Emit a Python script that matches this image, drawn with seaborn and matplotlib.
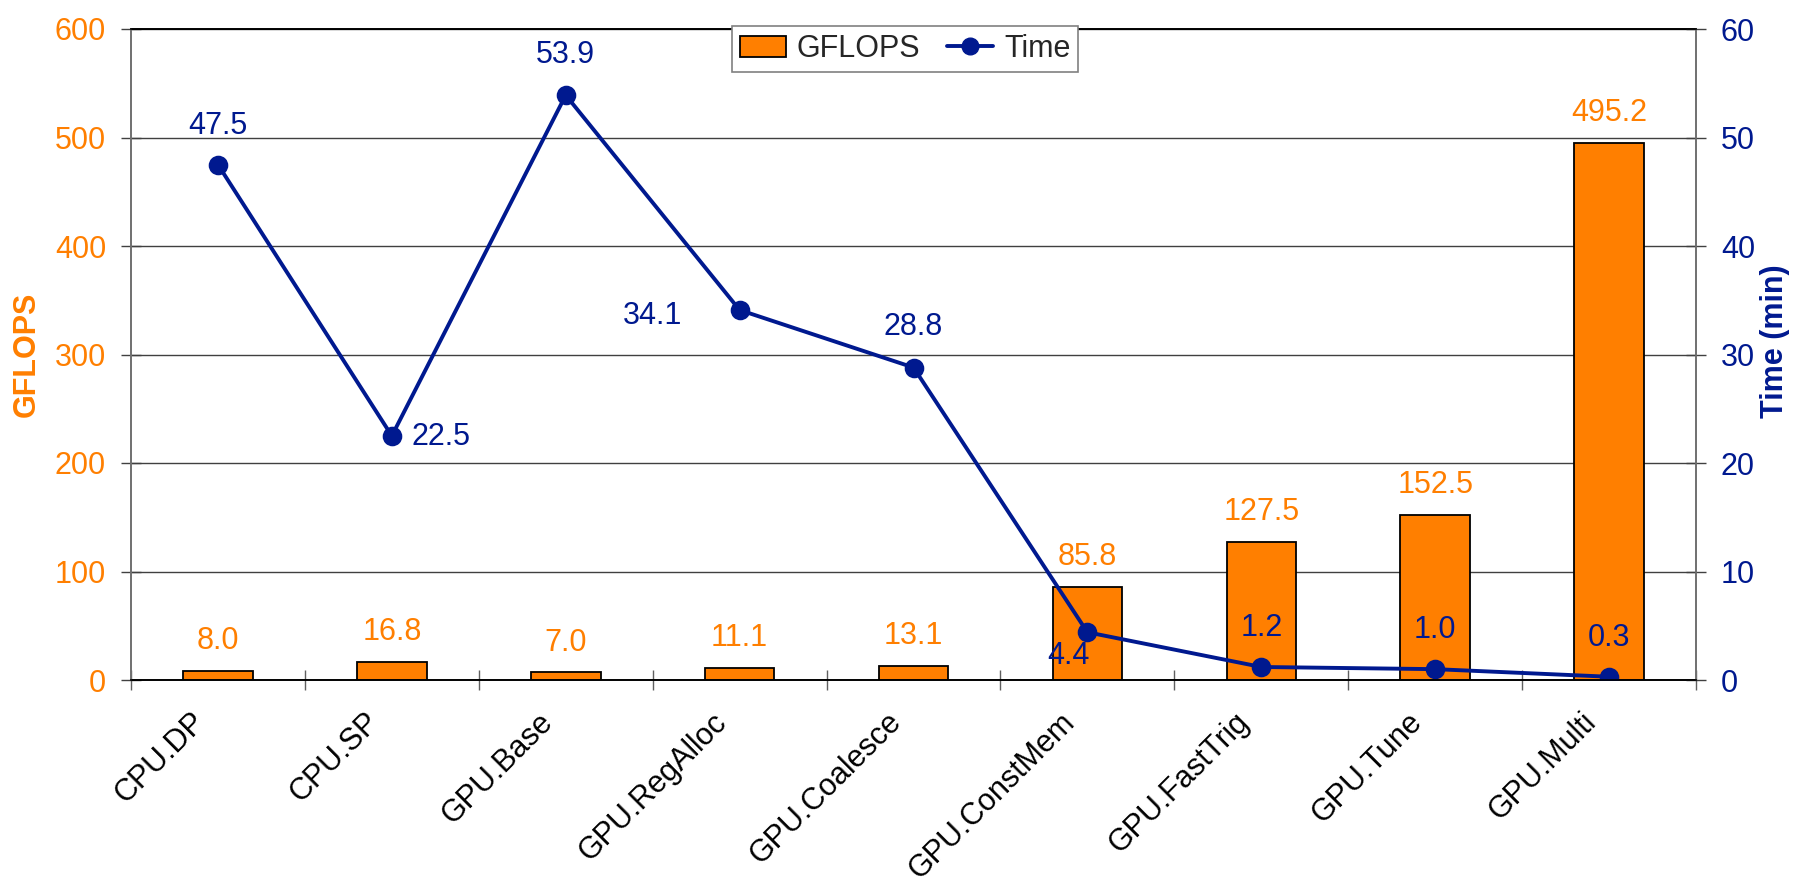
import numpy as np
import pandas as pd
import matplotlib
matplotlib.use("Agg")
import matplotlib.pyplot as plt
import seaborn as sns
from matplotlib.transforms import ScaledTranslation
from matplotlib.patches import Patch
from matplotlib.lines import Line2D

# ---- data ----
categories = ["CPU.DP", "CPU.SP", "GPU.Base", "GPU.RegAlloc", "GPU.Coalesce",
              "GPU.ConstMem", "GPU.FastTrig", "GPU.Tune", "GPU.Multi"]
gflops = [8.0, 16.8, 7.0, 11.1, 13.1, 85.8, 127.5, 152.5, 495.2]
time_min = [47.5, 22.5, 53.9, 34.1, 28.8, 4.4, 1.2, 1.0, 0.3]
gflops_ticks = [0, 100, 200, 300, 400, 500, 600]
time_ticks = [0, 10, 20, 30, 40, 50, 60]

ORANGE = "#FF7F00"
NAVY = "#00198F"
FS = 22

sns.set_theme(style="white")
plt.rcParams["font.family"] = ["Liberation Sans", "DejaVu Sans"]

df = pd.DataFrame({"cat": categories, "gflops": gflops, "time": time_min})

fig = plt.figure(figsize=(17.96, 8.86), dpi=100)
ax = fig.add_axes([131 / 1796, 1 - 680 / 886, 1565 / 1796, 651 / 886])
ax.set_axisbelow(True)

sns.barplot(data=df, x="cat", y="gflops", ax=ax, color=ORANGE, saturation=1,
            width=0.4, edgecolor="black", linewidth=1.3, zorder=3)

ax2 = ax.twinx()
sns.pointplot(data=df, x="cat", y="time", ax=ax2, color=NAVY, markers="o",
              linestyles="-", errorbar=None, markersize=12, linewidth=2.8)

n = len(categories)
ax.set_xlim(-0.5, n - 0.5)
ax.set_ylim(gflops_ticks[0], gflops_ticks[-1])
ax2.set_ylim(time_ticks[0], time_ticks[-1])

# y axes
ax.set_yticks(gflops_ticks)
ax.set_yticklabels([str(t) for t in gflops_ticks], color=ORANGE, fontsize=FS)
ax2.set_yticks(time_ticks)
ax2.set_yticklabels([str(t) for t in time_ticks], color=NAVY, fontsize=FS)
ax.tick_params(axis="y", direction="inout", length=14, width=1, color="#404040",
               pad=11, left=True)
ax2.tick_params(axis="y", direction="inout", length=14, width=1, color="#404040",
                pad=11, right=True)
ax.yaxis.grid(True, color="#404040", linewidth=1)
ax.xaxis.grid(False)
ax2.grid(False)

# x axis: labels at centers, tick marks at boundaries
ax.set_xticks(range(n))
ax.set_xticklabels(categories, rotation=45, ha="right", va="center",
                   rotation_mode="anchor", fontsize=FS, color="black")
ax.set_xticks(np.arange(-0.5, n), minor=True)
ax.tick_params(axis="x", which="major", length=0, pad=27)
ax.tick_params(axis="x", which="minor", direction="inout", length=15, width=1,
               color="#606060", bottom=True)
shift = ScaledTranslation(-17 / 100, 0, fig.dpi_scale_trans)
for lab in ax.get_xticklabels():
    lab.set_transform(lab.get_transform() + shift)
ax.set_xlabel("")

# spines
for a in (ax, ax2):
    a.spines["left"].set_color("#707070")
    a.spines["right"].set_color("#707070")
    a.spines["top"].set_color("black")
    a.spines["bottom"].set_color("black")
    for s in a.spines.values():
        s.set_linewidth(1.2)

# axis labels
ax.set_ylabel("GFLOPS", color=ORANGE, fontsize=FS, fontweight="bold")
ax.yaxis.set_label_coords(-0.057, 0.5)
ax2.set_ylabel("Time (min)", color=NAVY, fontsize=FS, fontweight="bold")
ax2.yaxis.set_label_coords(1.041, 0.52)

# bar value labels
for i, v in enumerate(gflops):
    ax.annotate(f"{v:.1f}", (i, v), xytext=(0, 21.5), textcoords="offset points",
                ha="center", va="center", color=ORANGE, fontsize=FS, zorder=5)

# time value labels (offsets in points, alignment)
time_label_pos = [
    ((0, 28), "center"), ((14, -1), "left"), ((0, 29), "center"),
    ((-41, -4), "right"), ((0, 29), "center"), ((-14, -17), "center"),
    ((0, 28), "center"), ((0, 28), "center"), ((0, 28), "center"),
]
for i, v in enumerate(time_min):
    off, ha = time_label_pos[i]
    ax2.annotate(f"{v:.1f}", (i, v), xytext=off, textcoords="offset points",
                 ha=ha, va="center", color=NAVY, fontsize=FS, zorder=6)

# legend
handles = [Patch(facecolor=ORANGE, edgecolor="black", linewidth=1.3),
           Line2D([0], [0], color=NAVY, lw=2.8, marker="o", markersize=12)]
leg = ax2.legend(handles, ["GFLOPS", "Time"], loc="upper center",
                 bbox_to_anchor=(0.4946, 1.004), ncol=2, fontsize=FS,
                 frameon=True, fancybox=False, framealpha=1, edgecolor="#808080",
                 borderpad=0.25, handlelength=1.5, handletextpad=0.35,
                 columnspacing=0.9, borderaxespad=0)
leg.get_frame().set_linewidth(1.2)
leg.set_zorder(10)

fig.savefig("out.png", dpi=100, facecolor="white")
